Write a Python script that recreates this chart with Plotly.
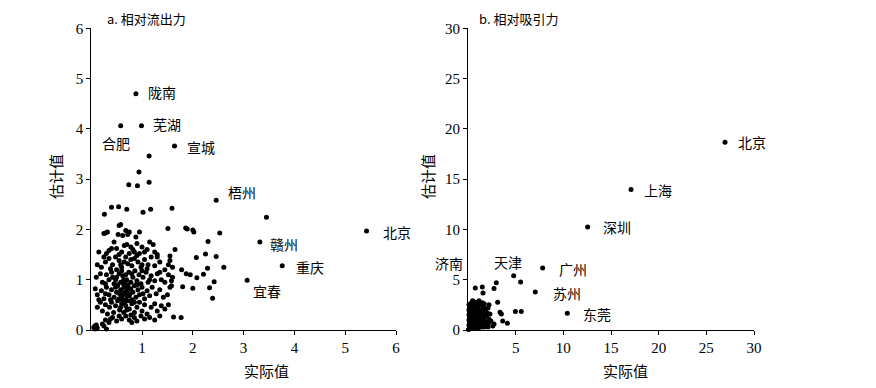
import plotly.graph_objects as go

# ---------- Panel a: 相对流出力 (actual vs estimated) ----------
a_x = [0.58, 0.99, 0.88, 1.64, 1.14, 0.94, 0.74, 0.91, 1.14, 2.46, 3.45, 3.32, 3.76, 3.07, 5.42,
       0.26, 0.40, 0.54, 0.70, 1.02, 1.17, 1.59, 1.51, 1.86, 1.89, 2.00, 2.02, 2.53, 2.30, 2.25,
       2.46, 2.07, 2.61, 2.29, 2.21, 2.08, 2.42, 2.33, 2.39, 2.00, 1.80, 1.77, 1.62, 1.65, 1.55,
       1.78, 1.87, 1.95, 1.60, 1.58,
       0.25, 0.32, 0.55, 0.58, 0.68, 0.75, 0.62, 0.95, 0.88, 0.53, 0.72, 0.28,
       0.15, 0.35, 0.45, 0.50, 0.60, 0.70, 0.78, 0.82, 0.90, 1.00, 1.05, 1.15, 1.22, 1.30, 0.40,
       0.65, 0.95, 1.10, 0.30, 0.55, 0.85, 1.25, 0.75,
       0.12, 0.20, 0.28, 0.35, 0.42, 0.48, 0.55, 0.60, 0.68, 0.72, 0.80, 0.85, 0.92, 0.98, 1.05,
       1.12, 1.18, 1.25, 1.35, 1.45, 1.55, 1.60, 0.38, 0.50, 0.65, 0.90, 1.00, 1.10, 1.30, 1.52,
       0.25, 0.78, 0.58,
       0.10, 0.18, 0.22, 0.30, 0.35, 0.40, 0.45, 0.50, 0.55, 0.58, 0.62, 0.66, 0.70, 0.74, 0.78,
       0.82, 0.86, 0.90, 0.94, 0.98, 1.02, 1.08, 1.12, 1.18, 1.25, 1.30, 1.38, 1.45, 1.52, 1.58,
       0.28, 0.42, 0.60, 0.68, 0.72, 0.80, 0.88, 1.00, 1.15, 1.35, 0.48, 0.52, 0.64,
       0.08, 0.12, 0.20, 0.25, 0.30, 0.35, 0.40, 0.45, 0.50, 0.52, 0.55, 0.58, 0.62, 0.65, 0.68,
       0.70, 0.72, 0.75, 0.78, 0.80, 0.82, 0.85, 0.88, 0.92, 0.95, 1.00, 1.05, 1.10, 1.15, 1.20,
       1.28, 1.35, 1.42, 1.55, 1.50, 0.38, 0.60, 0.66, 0.70, 0.74, 0.76, 0.64, 0.56, 0.48, 0.90,
       1.02, 0.15, 0.28,
       0.12, 0.18, 0.22, 0.28, 0.32, 0.36, 0.40, 0.44, 0.48, 0.52, 0.56, 0.60, 0.64, 0.68, 0.72,
       0.75, 0.80, 0.85, 0.90, 0.95, 1.00, 1.05, 1.10, 1.18, 1.25, 1.30, 1.38, 1.45, 1.52, 0.62,
       0.70, 0.78, 0.66, 0.58, 0.85,
       0.05, 0.07, 0.10, 0.12, 0.08, 0.30, 0.22, 0.28, 0.35, 0.42, 0.50, 0.60, 0.68, 0.75, 0.85,
       0.90, 0.98, 1.05, 1.15, 1.25, 1.35, 0.80, 0.55, 0.38, 0.25]
a_y = [4.06, 4.06, 4.70, 3.66, 3.46, 3.14, 2.89, 2.87, 2.94, 2.58, 2.24, 1.75, 1.28, 0.99, 1.97,
       2.30, 2.44, 2.45, 2.40, 2.34, 2.40, 2.42, 2.02, 2.03, 2.01, 1.99, 1.95, 1.93, 1.76, 1.51,
       1.46, 1.44, 1.25, 1.23, 1.11, 1.04, 0.96, 0.84, 0.63, 0.83, 0.86, 0.25, 0.26, 1.60, 1.47,
       1.20, 1.12, 1.10, 1.05, 0.88,
       1.92, 1.95, 2.08, 2.10, 1.98, 1.95, 1.88, 1.95, 1.85, 1.90, 1.90, 1.93,
       1.55, 1.58, 1.75, 1.62, 1.55, 1.70, 1.65, 1.60, 1.72, 1.65, 1.55, 1.75, 1.70, 1.50, 1.62,
       1.68, 1.52, 1.60, 1.52, 1.50, 1.55, 1.55, 1.52,
       1.30, 1.25, 1.35, 1.42, 1.30, 1.45, 1.38, 1.25, 1.45, 1.32, 1.28, 1.42, 1.35, 1.25, 1.40,
       1.30, 1.45, 1.28, 1.35, 1.20, 1.38, 1.25, 1.22, 1.20, 1.35, 1.48, 1.30, 1.22, 1.45, 1.30,
       1.45, 1.40, 1.30,
       1.05, 1.12, 0.95, 1.10, 1.00, 1.15, 0.92, 1.05, 1.12, 0.95, 1.08, 0.92, 1.00, 1.15, 0.95,
       1.05, 1.18, 0.98, 1.10, 0.92, 1.05, 1.15, 0.95, 1.08, 0.98, 1.12, 1.00, 0.95, 1.10, 0.98,
       0.92, 1.05, 1.18, 1.10, 0.90, 1.12, 0.90, 1.18, 1.00, 1.15, 1.00, 0.90, 1.00,
       0.82, 0.70, 0.78, 0.62, 0.85, 0.70, 0.80, 0.65, 0.75, 0.88, 0.62, 0.80, 0.70, 0.85, 0.60,
       0.78, 0.88, 0.68, 0.82, 0.60, 0.75, 0.88, 0.65, 0.80, 0.70, 0.85, 0.62, 0.78, 0.68, 0.85,
       0.72, 0.80, 0.65, 0.85, 0.70, 0.60, 0.65, 0.75, 0.68, 0.82, 0.72, 0.90, 0.72, 0.85, 0.90,
       0.72, 0.60, 0.72,
       0.45, 0.55, 0.38, 0.50, 0.32, 0.45, 0.55, 0.35, 0.48, 0.58, 0.40, 0.52, 0.35, 0.48, 0.58,
       0.42, 0.52, 0.35, 0.45, 0.55, 0.38, 0.50, 0.32, 0.45, 0.52, 0.38, 0.48, 0.42, 0.50, 0.58,
       0.40, 0.30, 0.55, 0.45, 0.55,
       0.05, 0.08, 0.10, 0.04, 0.02, 0.02, 0.12, 0.20, 0.15, 0.25, 0.18, 0.22, 0.28, 0.20, 0.25,
       0.18, 0.28, 0.22, 0.25, 0.20, 0.28, 0.15, 0.28, 0.22, 0.08]

a_label_text = ["陇南", "芜湖", "合肥", "宣城", "梧州", "赣州", "重庆", "宜春", "北京"]
a_label_x = [1.08, 1.18, 0.48, 1.85, 2.65, 3.48, 4.00, 3.14, 5.71]
a_label_y = [4.73, 4.09, 3.71, 3.64, 2.75, 1.72, 1.26, 0.77, 1.94]
a_label_anchor = ["left", "left", "center", "left", "left", "left", "left", "left", "left"]

# ---------- Panel b: 相对吸引力 ----------
b_x = [26.96, 17.10, 12.55, 7.83, 7.06, 10.42, 4.79, 5.52, 2.97, 2.73, 0.77, 1.50, 1.57, 3.11,
       4.97, 5.59, 3.36, 3.50, 4.13, 3.64, 2.73, 2.60, 2.13, 1.60, 1.96, 0.49,
       0.1, 0.2, 0.3, 0.4, 0.5, 0.6, 0.7, 0.8, 0.9, 1.0, 0.15, 0.25, 0.35, 0.45, 0.55, 0.65, 0.2,
       0.3, 0.4, 0.5, 0.6, 0.8, 1.0, 1.2, 1.4, 1.6, 1.1, 1.3, 1.5, 1.7, 1.9, 1.2, 1.4, 1.6, 1.8,
       2.0, 2.2, 2.4, 0.1, 0.1, 0.1, 0.1, 0.1, 0.2, 0.3, 0.4, 0.5, 0.6, 0.7, 0.8, 0.9, 1.0, 1.1,
       1.2, 1.3, 0.7, 0.5, 0.35, 0.25, 0.15, 0.05, 0.45, 0.55, 0.65, 0.75, 0.85, 0.95, 1.05, 1.15,
       1.25, 1.35, 1.45, 1.55, 1.65, 1.75, 1.85, 2.1, 2.3, 1.9, 0.3, 0.4, 0.2, 0.5, 0.7, 0.9, 1.1,
       1.3, 0.6, 0.8, 1.0, 0.4, 0.3, 0.2, 0.6, 0.9, 1.1, 1.4, 1.6, 0.15, 0.25, 0.45, 0.75, 0.95,
       1.15, 1.5, 1.7, 2.0, 2.2, 0.35, 0.55, 0.65, 0.8, 1.0, 1.3, 1.5, 1.7, 2.1]
b_y = [18.67, 13.97, 10.23, 6.17, 3.77, 1.67, 5.40, 4.77, 4.70, 4.13, 4.17, 4.27, 3.67, 2.77,
       1.83, 1.83, 1.77, 1.60, 0.67, 0.90, 0.60, 0.40, 0.67, 1.17, 1.50, 2.90,
       0.1, 0.3, 0.15, 0.5, 0.2, 0.8, 0.4, 1.0, 0.6, 1.2, 0.6, 0.9, 1.3, 1.6, 1.9, 2.2, 1.5,
       2.0, 2.4, 2.6, 2.8, 2.5, 2.3, 2.6, 2.5, 2.3, 1.8, 1.5, 1.2, 1.0, 0.8, 0.5, 0.3, 0.6, 0.4,
       0.5, 1.1, 0.9, 0.5, 1.0, 1.5, 2.0, 2.5, 0.8, 0.6, 0.9, 1.1, 1.4, 1.6, 1.7, 1.4, 0.9, 0.7,
       1.2, 1.0, 1.1, 0.7, 0.35, 0.2, 0.2, 0.05, 0.3, 0.45, 0.6, 0.75, 0.3, 0.2, 0.4, 0.25,
       0.8, 0.7, 0.9, 1.5, 1.7, 1.9, 2.1, 2.2, 1.6, 1.4, 1.7, 1.9, 2.2, 2.1, 2.0, 2.1, 2.1,
       2.0, 1.7, 1.3, 1.6, 1.2, 1.0, 1.2, 1.0, 0.9, 1.1, 1.9, 2.0, 1.8, 2.6, 2.8, 2.7, 2.7,
       2.9, 2.7, 2.6, 1.7, 2.5, 0.8, 0.55, 0.3, 0.55, 0.65, 0.45, 0.4, 0.3, 0.3]

b_label_text = ["北京", "上海", "深圳", "广州", "苏州", "东莞", "天津"]
b_label_x = [28.1, 18.3, 13.95, 9.37, 8.67, 11.85, 4.2]
b_label_y = [18.67, 13.9, 10.2, 6.05, 3.7, 1.6, 6.77]
b_label_anchor = ["left", "left", "left", "left", "left", "left", "center"]

FONT = "Liberation Serif, serif"
CJK = "Noto Sans CJK SC"

fig = go.Figure()
fig.add_trace(go.Scatter(x=a_x, y=a_y, mode="markers", xaxis="x", yaxis="y",
                         marker=dict(color="black", size=5), cliponaxis=False, showlegend=False))
fig.add_trace(go.Scatter(x=b_x, y=b_y, mode="markers", xaxis="x2", yaxis="y2",
                         marker=dict(color="black", size=5), cliponaxis=False, showlegend=False))

annotations = []
for t, x, y, anc in zip(a_label_text, a_label_x, a_label_y, a_label_anchor):
    annotations.append(dict(text=t, x=x, y=y, xref="x", yref="y", xanchor=anc, yanchor="middle",
                            showarrow=False, font=dict(size=14, color="#000000", family=CJK)))
for t, x, y, anc in zip(b_label_text, b_label_x, b_label_y, b_label_anchor):
    annotations.append(dict(text=t, x=x, y=y, xref="x2", yref="y2", xanchor=anc, yanchor="middle",
                            showarrow=False, font=dict(size=14, color="#000000", family=CJK)))

W, H = 876, 388
def px(v):
    return v / W
def py(v):
    return 1 - v / H

# 济南 label sits left of the y axis in panel b
annotations.append(dict(text="济南", x=px(449), y=py(263), xref="paper", yref="paper",
                        xanchor="center", yanchor="middle", showarrow=False,
                        font=dict(size=14, color="#000000", family=CJK)))

titles = [("a. 相对流出力", 105, 18), ("b. 相对吸引力", 477, 18)]
for t, x, y in titles:
    annotations.append(dict(text=t, x=px(x), y=py(y), xref="paper", yref="paper",
                            xanchor="left", yanchor="middle", showarrow=False,
                            font=dict(size=13, color="#000000", family=CJK)))
for x in (266, 625):
    annotations.append(dict(text="实际值", x=px(x), y=py(370), xref="paper", yref="paper",
                            xanchor="center", yanchor="middle", showarrow=False,
                            font=dict(size=15, color="#000000", family=CJK)))
for x in (56, 428):
    annotations.append(dict(text="估计值", x=px(x), y=py(177), xref="paper", yref="paper",
                            xanchor="center", yanchor="middle", showarrow=False, textangle=-90,
                            font=dict(size=15, color="#000000", family=CJK)))

axis_common = dict(showgrid=False, zeroline=False, showline=True, linecolor="black", linewidth=1,
                   ticks="outside", ticklen=4, tickcolor="black", automargin=False,
                   tickfont=dict(size=15, color="black", family=FONT))
ydom = [py(330), py(28.3)]
fig.update_layout(
    width=W, height=H, margin=dict(l=0, r=0, t=0, b=0, autoexpand=False),
    plot_bgcolor="white", paper_bgcolor="white",
    xaxis=dict(domain=[px(91.2), px(396)], range=[0, 6], tickvals=[1, 2, 3, 4, 5, 6],
               anchor="y", **axis_common),
    yaxis=dict(domain=ydom, range=[0, 6], tickvals=[0, 1, 2, 3, 4, 5, 6], anchor="x", **axis_common),
    xaxis2=dict(domain=[px(468), px(754)], range=[0, 30], tickvals=[5, 10, 15, 20, 25, 30],
                anchor="y2", **axis_common),
    yaxis2=dict(domain=ydom, range=[0, 30], tickvals=[0, 5, 10, 15, 20, 25, 30], anchor="x2",
                **axis_common),
    annotations=annotations,
)
fig.write_html("out.html", config={"displayModeBar": False},
               post_script="document.body.style.margin='0';document.body.style.padding='0';")
